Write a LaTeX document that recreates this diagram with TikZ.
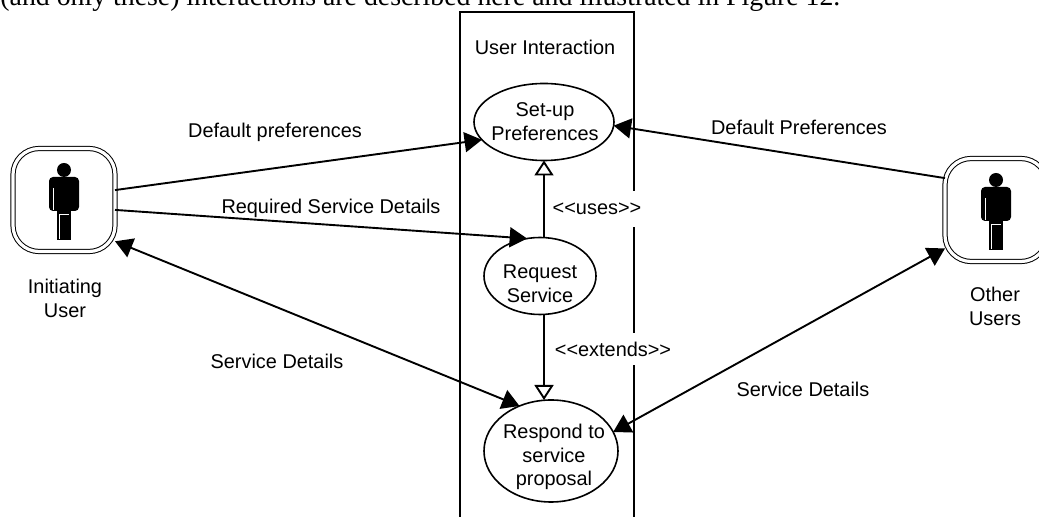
\documentclass[tikz,border=0pt]{standalone}
\usepackage{fontspec}
\setmainfont{Liberation Sans}
\newfontfamily\bodyfont{Liberation Serif}
\usetikzlibrary{shapes.geometric,arrows.meta}
\tikzset{
	label text/.style={font=\fontsize{9.95}{11.9}\selectfont, align=center, inner sep=0pt},
	usecase/.style={draw, ellipse, line width=0.8pt, inner sep=0pt, outer sep=0pt},
	actor box/.style={draw, double, line width=0.5pt, double distance=1.6pt, rounded corners=13pt, inner sep=0pt, outer sep=0pt, minimum width=51pt, minimum height=51.5pt},
	assoc/.style={line width=0.95pt, {Triangle[length=8.7pt,width=10pt]}-{Triangle[length=8.7pt,width=10pt]}},
	assoc end/.style={line width=0.95pt, -{Triangle[length=8.7pt,width=10pt]}},
	generalize/.style={line width=0.95pt, -{Triangle[open,fill=white,length=7.5pt,width=9.5pt]}}
}
\newcommand{\drawperson}[2]{
	\begin{scope}[shift={(#1,#2)}]
		\fill (0,-30) circle (7);
		\fill[rounded corners=2pt] (-15,-23) rectangle (15,11);
		\fill (-7,11) rectangle (7,40);
		\draw[white, line width=0.4pt] (-11,-12) -- (-11,10);
		\draw[white, line width=0.4pt] (-5,39) -- (-5,14) -- (5,14);
	\end{scope}
}
\begin{document}
\begin{tikzpicture}[x=0.5pt, y=-0.5pt]
	\useasboundingbox (0,0) rectangle (1039,517);
	\node[anchor=base west, inner sep=0pt, font=\bodyfont\fontsize{13.9}{16}\selectfont] (intro) at (0,5.5) {(and only these) interactions are described here and illustrated in Figure 12.};
	% system boundary
	\draw[line width=1pt] (460,530) -- (460,12) -- (634,12) -- (634,530);
	\node[label text] (sysname) at (545,47) {User Interaction};
	% use cases
	\node[usecase, minimum width=70pt, minimum height=38.5pt] (setup) at (544,122) {};
	\node[label text] (setupname) at (545,122) {Set-up\\Preferences};
	\node[usecase, minimum width=56pt, minimum height=38.5pt] (request) at (540,276) {};
	\node[label text] (requestname) at (540,284) {Request\\Service};
	\node[usecase, minimum width=67pt, minimum height=51pt] (respond) at (551,451) {};
	\node[label text] (respondname) at (554,457) {Respond to\\service\\proposal};
	% actors
	\node[actor box] (initiating) at (64,200) {};
	\node[actor box] (other) at (996,210) {};
	\drawperson{64}{200}
	\drawperson{996}{210}
	\node[label text] (initname) at (65,298) {Initiating\\User};
	\node[label text] (othername) at (995,306) {Other\\Users};
	% connectors
	\draw[assoc end] (initiating.11) -- (setup.196);
	\draw[assoc end] (initiating.-11) -- (request.109);
	\draw[assoc] (initiating.-39.5) -- (respond.125);
	\draw[assoc end] (other.148) -- (setup.-3);
	\draw[assoc] (other.-143) -- (respond.17);
	\draw[generalize] (setup.south |- request.north) -- (setup.south);
	\draw[generalize] (setup.south |- request.south) -- (setup.south |- respond.north);
	% connector labels
	\node[label text] at (275,132) {Default preferences};
	\node[label text] at (799,127) {Default Preferences};
	\node[label text] at (331,208) {Required Service Details};
	\node[label text] at (277,361) {Service Details};
	\node[label text] at (803,389) {Service Details};
	\node[label text, fill=white, inner sep=2pt, minimum height=18pt] at (597,209) {<{}<uses>{}>};
	\node[label text, fill=white, inner sep=2pt, minimum height=16pt] at (613,349) {<{}<extends>{}>};
\end{tikzpicture}
\end{document}
